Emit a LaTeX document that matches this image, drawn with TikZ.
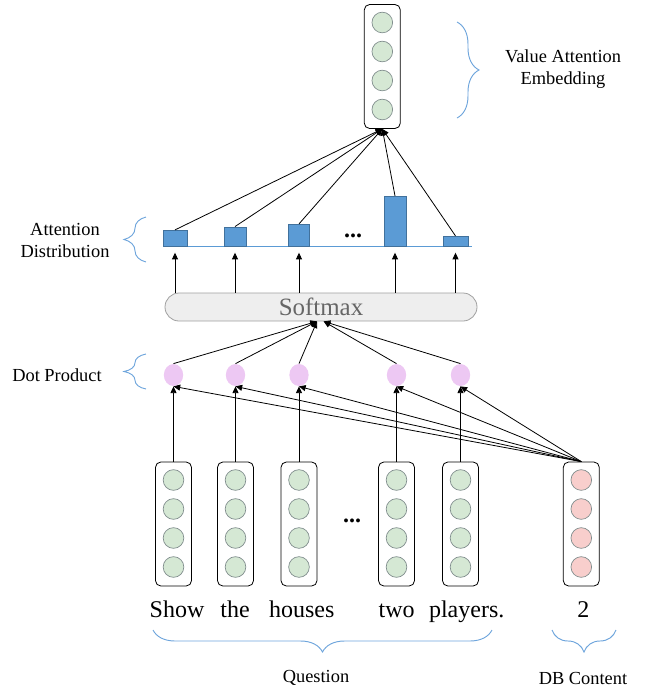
\documentclass[tikz,border=0pt]{standalone}
\usepackage{fontspec}
\setmainfont{Liberation Serif}
\usetikzlibrary{arrows.meta,shapes.geometric,decorations.pathreplacing}

\definecolor{cellgreen}{HTML}{D5E8D4}
\definecolor{cellpink}{HTML}{F8CECC}
\definecolor{cellline}{HTML}{7F8C8C}
\definecolor{barblue}{HTML}{5B9BD5}
\definecolor{barline}{HTML}{41719C}
\definecolor{bracec}{HTML}{6EA5DC}
\definecolor{dotpink}{HTML}{EDC8F3}
\definecolor{softfill}{HTML}{EEEEEE}
\definecolor{softline}{HTML}{A0A0A0}

\begin{document}
\begin{tikzpicture}[x=0.75pt, y=-0.75pt, line width=0.6pt,
  vecbox/.style={draw, rounded corners=4pt, minimum width=27pt, minimum height=93pt},
  cell/.style={circle, draw=cellline, line width=0.5pt, minimum size=15.5pt, inner sep=0pt},
  dotprod/.style={ellipse, fill=dotpink, minimum width=14.5pt, minimum height=16.5pt, inner sep=0pt},
  bar/.style={draw=barline, fill=barblue, anchor=south, inner sep=0pt},
  arr/.style={-{Triangle[length=5pt,width=4.5pt]}},
  curly/.style={draw=bracec, line width=0.7pt, decorate, decoration={brace, amplitude=16.5pt}},
  lbl/.style={font=\fontsize{13.8}{16.5}\selectfont, align=center},
  word/.style={font=\fontsize{18}{20}\selectfont, anchor=base},
  dotsl/.style={font=\fontsize{18}{20}\selectfont\bfseries}]
  \useasboundingbox (0,0) rectangle (645,690);

  % Value attention embedding
  \node[vecbox] (val) at (382.3,66.5) {};
  \foreach \k in {1,...,4}
    \node[cell, fill=cellgreen] (val\k) at (382.3,{22.5+29*(\k-1)}) {};

  % Question and DB content vectors
  \foreach \n/\x/\c in {q1/173.5/cellgreen, q2/235.5/cellgreen, q3/299/cellgreen,
                        q4/396.5/cellgreen, q5/460.5/cellgreen, db/581.3/cellpink} {
    \node[vecbox] (\n) at (\x,524) {};
    \foreach \k in {1,...,4}
      \node[cell, fill=\c] (\n\k) at (\x,{480+29*(\k-1)}) {};
  }
  \node[dotsl] (qdots) at (352,521) {...};

  % Words
  \foreach \n/\x/\t in {w1/177/Show, w2/235/the, w3/301.7/houses,
                        w4/396.7/two, w5/466.7/players., w6/583.3/2}
    \node[word] (\n) at (\x,617) {\t};

  % Dot product
  \foreach \i/\x in {1/173.5,2/235.5,3/299,4/396.5,5/460.5}
    \node[dotprod] (d\i) at (\x,375) {};
  \foreach \i in {1,...,5} {
    \draw[arr] (q\i.north) -- (d\i.south);
    \draw[arr] (db.north) -- (d\i.south);
  }

  % Softmax
  \node[draw=softline, fill=softfill, rounded corners=10.5pt, minimum width=234pt,
        minimum height=21pt, inner sep=0pt, text=black!60,
        font=\fontsize{18.7}{20}\selectfont] (soft) at (321,307) {Softmax};
  \foreach \i in {1,2,3}
    \draw[arr] (d\i.north) -- ([xshift=-3pt]soft.south);
  \foreach \i in {4,5}
    \draw[arr] (d\i.north) -- ([xshift=2pt]soft.south);

  % Attention distribution
  \draw[barblue, line width=0.5pt] (163,246.7) -- (471.7,246.7);
  \node[bar, minimum width=18pt, minimum height=12pt] (b1) at (175,246.7) {};
  \node[bar, minimum width=16.5pt, minimum height=14.5pt] (b2) at (235,246.7) {};
  \node[bar, minimum width=15.75pt, minimum height=16.5pt] (b3) at (299,246.7) {};
  \node[bar, minimum width=16.5pt, minimum height=37.5pt] (b4) at (395,246.7) {};
  \node[bar, minimum width=18.75pt, minimum height=7.5pt] (b5) at (455.5,246.7) {};
  \node[dotsl] (bdots) at (353,236) {...};
  \foreach \i in {1,...,5} {
    \draw[arr] (b\i |- soft.north) -- ([yshift=-4.5pt]b\i.south);
    \draw[arr] (b\i.north) -- (val.south);
  }

  % Braces and labels
  \draw[curly] (457,22) -- (457,118);
  \draw[curly] (146,262) -- (146,217);
  \draw[curly] (146,389) -- (146,354);
  \draw[curly] (492,630) -- (153,630);
  \draw[curly] (616,630) -- (552,630);
  \node[lbl] (vlabel) at (563,69) {Value Attention\\Embedding};
  \node[lbl] (alabel) at (65,240) {Attention\\Distribution};
  \node[lbl] (dlabel) at (57,375) {Dot Product};
  \node[lbl] (qlabel) at (316,678) {Question};
  \node[lbl] (clabel) at (583,678) {DB Content};
\end{tikzpicture}
\end{document}
